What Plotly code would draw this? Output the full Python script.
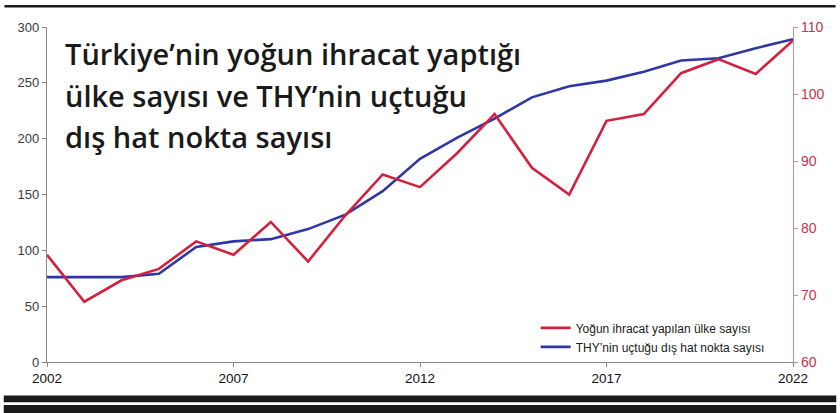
import plotly.graph_objects as go

years = list(range(2002, 2023))
thy_destinations = [76, 76, 76, 79, 103, 108, 110, 119, 132, 153, 182, 201, 218, 237, 247, 252, 260, 270, 272, 281, 289]
export_countries = [76, 69, 72.2, 73.9, 78, 76, 80.9, 75, 81.9, 88, 86.1, 91.2, 97, 89, 85, 96, 97, 103.1, 105.2, 103, 108]

left_ticks = [0, 50, 100, 150, 200, 250, 300]
right_ticks = [60, 70, 80, 90, 100, 110]
x_ticks = [2002, 2007, 2012, 2017, 2022]

name_red = "Yoğun ihracat yapılan ülke sayısı"
name_blue = "THY’nin uçtuğu dış hat nokta sayısı"
title_lines = ["Türkiye’nin yoğun ihracat yaptığı", "ülke sayısı ve THY’nin uçtuğu", "dış hat nokta sayısı"]

RED = "#d4203f"
BLUE = "#2e37a3"

fig = go.Figure()
fig.add_trace(go.Scatter(x=years, y=export_countries, name=name_red, mode="lines",
                         line=dict(color=RED, width=2.6), yaxis="y2"))
fig.add_trace(go.Scatter(x=years, y=thy_destinations, name=name_blue, mode="lines",
                         line=dict(color=BLUE, width=2.6), yaxis="y"))

fig.update_layout(
    width=840, height=413,
    margin=dict(l=47, r=47, t=27, b=51),
    paper_bgcolor="white", plot_bgcolor="white",
    font=dict(family="Liberation Sans, Arial", size=12, color="#333"),
    xaxis=dict(range=[2002, 2022], tickvals=x_ticks, showgrid=False, zeroline=False,
               showline=True, linecolor="#8a8a8a", linewidth=1.3,
               ticks="outside", ticklen=4, tickcolor="#8a8a8a",
               tickfont=dict(size=13.5, color="#111111", family="Liberation Sans, Arial")),
    yaxis=dict(range=[0, 300], tickvals=left_ticks, showgrid=False, zeroline=False,
               showline=True, linecolor="#8a8a8a", linewidth=1.3,
               ticks="outside", ticklen=4, tickcolor="#8a8a8a",
               tickfont=dict(size=13, color="#3a3a3a")),
    yaxis2=dict(range=[60, 110], tickvals=right_ticks, overlaying="y", side="right",
                showgrid=False, zeroline=False, showline=True, linecolor="#d58a9c", linewidth=1.3,
                ticks="outside", ticklen=4, tickcolor="#d58a9c",
                tickfont=dict(size=14, color="#c8334f")),
    legend=dict(x=0.655, y=0.145, xanchor="left", yanchor="top", bgcolor="rgba(0,0,0,0)",
                font=dict(size=12, color="#1a1a1a", family="Liberation Sans, Arial"),
                tracegroupgap=0, itemwidth=30),
    showlegend=True,
)

title_y = [0.985, 0.86, 0.737]
for line, yy in zip(title_lines, title_y):
    fig.add_annotation(text=line, xref="paper", yref="paper", x=0.022, y=yy,
                       xanchor="left", yanchor="top", align="left", showarrow=False,
                       font=dict(family="Open Sans", size=29, color="#1a1a1a", weight=600))

# decorative black rules (page frame)
fig.add_shape(type="line", xref="paper", yref="paper", x0=-0.057, x1=1.057, y0=1.062, y1=1.062,
              line=dict(color="#1a1a1a", width=2.5))
fig.add_shape(type="rect", xref="paper", yref="paper", x0=-0.058, x1=1.058, y0=-0.12, y1=-0.1,
              fillcolor="#1a1a1a", line=dict(width=0))
fig.add_shape(type="rect", xref="paper", yref="paper", x0=-0.058, x1=1.058, y0=-0.155, y1=-0.128,
              fillcolor="#1a1a1a", line=dict(width=0))

fig.write_html("out.html", config={"displayModeBar": False},
               post_script="document.body.style.margin='0';document.body.style.padding='0';")
